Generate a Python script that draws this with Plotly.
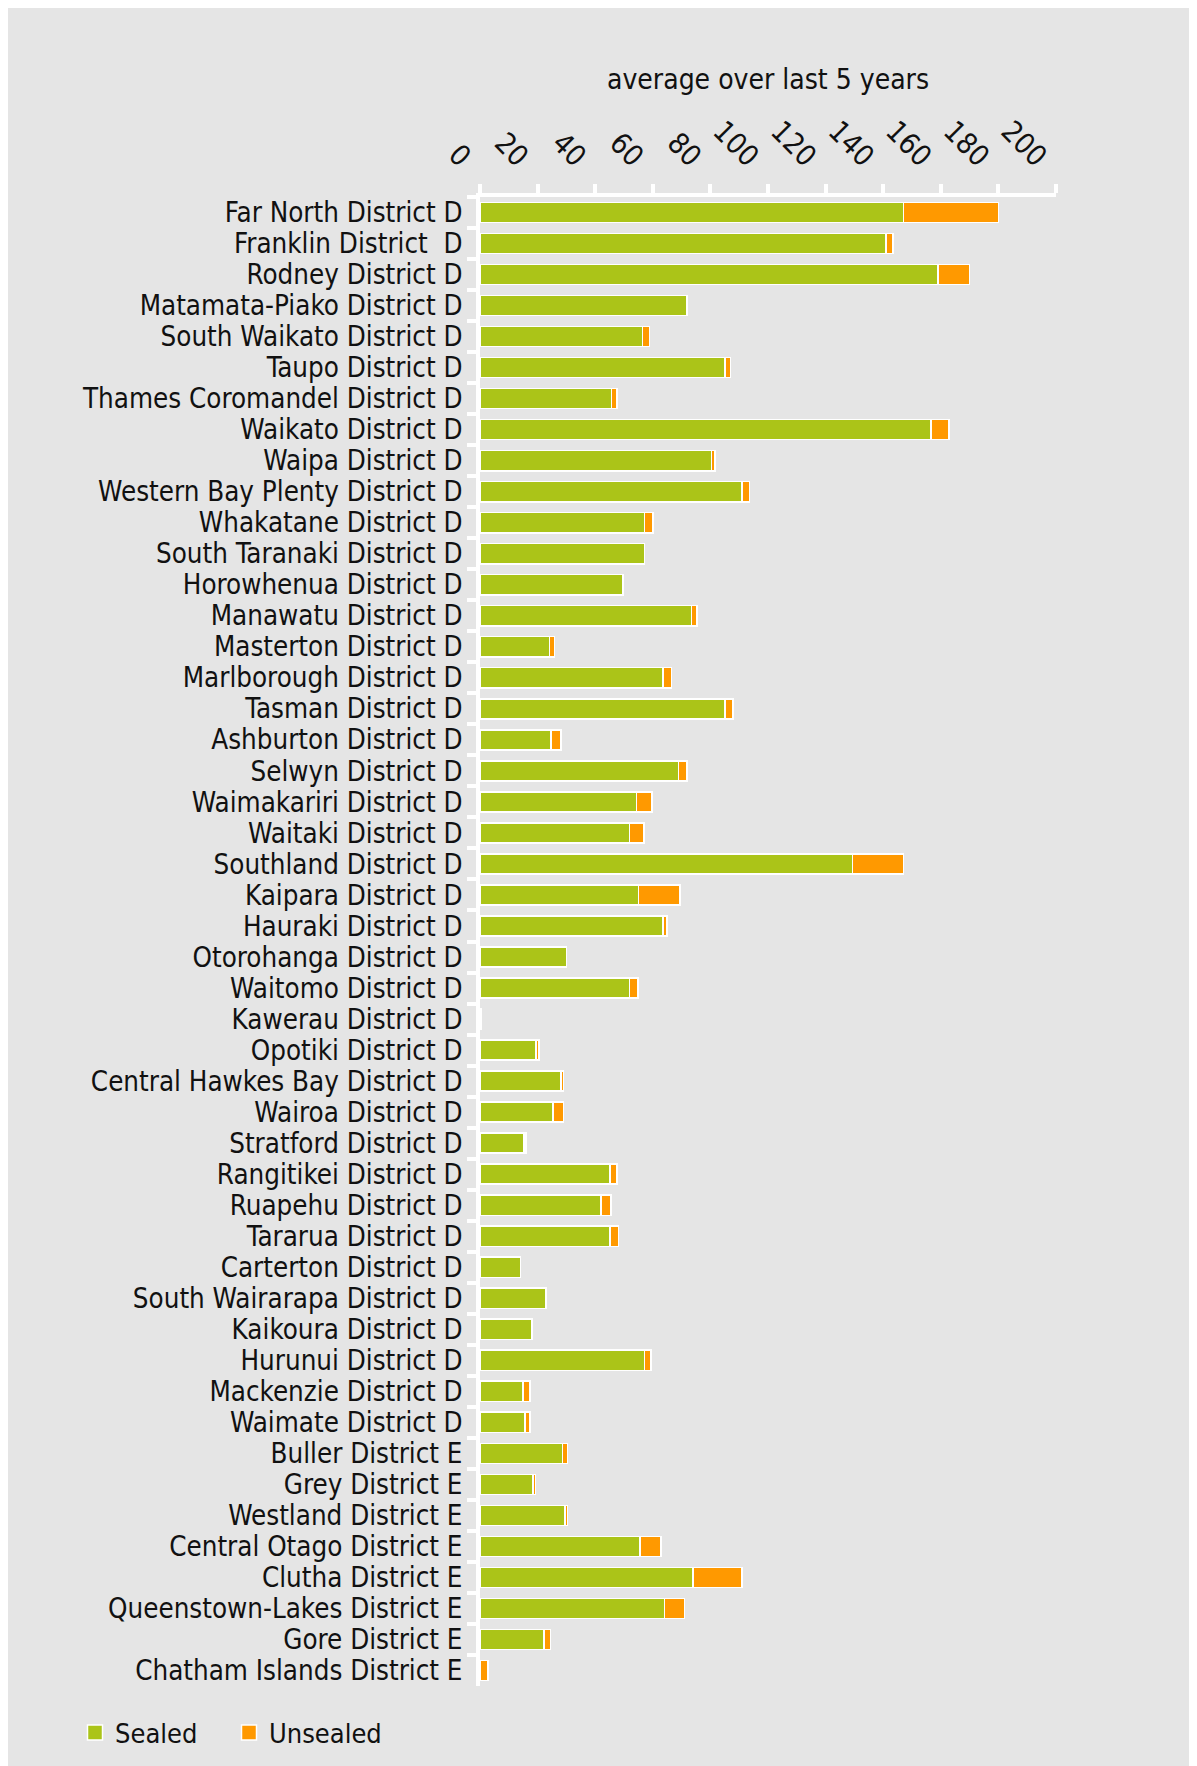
import plotly.graph_objects as go

districts = [
    "Far North District D", "Franklin District\u00a0 D", "Rodney District D",
    "Matamata-Piako District D", "South Waikato District D", "Taupo District D",
    "Thames Coromandel District D", "Waikato District D", "Waipa District D",
    "Western Bay Plenty District D", "Whakatane District D", "South Taranaki District D",
    "Horowhenua District D", "Manawatu District D", "Masterton District D",
    "Marlborough District D", "Tasman District D", "Ashburton District D",
    "Selwyn District D", "Waimakariri District D", "Waitaki District D",
    "Southland District D", "Kaipara District D", "Hauraki District D",
    "Otorohanga District D", "Waitomo District D", "Kawerau District D",
    "Opotiki District D", "Central Hawkes Bay District D", "Wairoa District D",
    "Stratford District D", "Rangitikei District D", "Ruapehu District D",
    "Tararua District D", "Carterton District D", "South Wairarapa District D",
    "Kaikoura District D", "Hurunui District D", "Mackenzie District D",
    "Waimate District D", "Buller District E", "Grey District E",
    "Westland District E", "Central Otago District E", "Clutha District E",
    "Queenstown-Lakes District E", "Gore District E", "Chatham Islands District E",
]

sealed = [147.1, 141.0, 159.0, 71.8, 56.4, 85.1, 45.7, 156.6, 80.3, 91.0,
          57.2, 57.2, 49.7, 73.4, 24.2, 63.6, 85.1, 24.7, 68.9, 54.3,
          51.9, 129.3, 55.1, 63.6, 30.1, 51.9, 0.5, 19.4, 28.2, 25.3,
          15.2, 45.2, 42.0, 45.2, 14.1, 22.9, 18.1, 57.2, 14.9, 15.7,
          28.7, 18.4, 29.5, 55.6, 73.9, 64.1, 22.3, 0.0]

unsealed = [33.0, 2.4, 11.0, 0.0, 2.4, 1.9, 1.9, 6.2, 1.3, 2.6,
            2.9, 0.0, 0.0, 1.9, 1.6, 2.9, 2.7, 3.5, 2.9, 5.5,
            5.0, 17.8, 14.3, 1.3, 0.0, 2.9, 0.0, 1.1, 0.8, 3.7,
            0.8, 2.4, 3.5, 2.9, 0.0, 0.0, 0.0, 2.1, 2.4, 1.6,
            1.6, 0.8, 0.8, 7.2, 17.0, 6.9, 2.1, 2.7]

x_ticks = [0, 20, 40, 60, 80, 100, 120, 140, 160, 180, 200]
axis_title = "average over last 5 years"

GREEN = "#abc418"
ORANGE = "#ff9900"
BG = "#e5e5e5"
FONT = "DejaVu Sans Condensed, Liberation Sans, Arial, sans-serif"

# page is offset by the 8px body margin
OFF = 8
W, H = 1197 - OFF, 1766 - OFF
PLOT_L, PLOT_R, PLOT_T, PLOT_B = 480, 1056, 197, 1686
L = PLOT_L - OFF
T = PLOT_T - OFF
R = W - (PLOT_R - OFF)
B = H - (PLOT_B - OFF)
pw, ph = W - L - R, H - T - B


def px_to_paper_x(px):
    return (px - OFF - L) / pw


def px_to_paper_y(py):
    return (H - B - (py - OFF)) / ph


fig = go.Figure()
fig.add_trace(go.Bar(
    y=districts, x=sealed, name="Sealed", orientation="h", showlegend=False,
    marker=dict(color=GREEN, line=dict(color="white", width=1.5)),
))
fig.add_trace(go.Bar(
    y=districts, x=unsealed, name="Unsealed", orientation="h", showlegend=False,
    marker=dict(color=ORANGE, line=dict(color="white", width=1.5)),
))
# legend entries (square swatches)
for nm, col in (("Sealed", GREEN), ("Unsealed", ORANGE)):
    fig.add_trace(go.Scatter(
        x=[None], y=[None], mode="markers", name=nm, showlegend=True,
        marker=dict(symbol="square", size=15, color=col,
                    line=dict(color="white", width=1.5)),
    ))

fig.update_layout(
    width=W, height=H,
    margin=dict(l=L, r=R, t=T, b=B, autoexpand=False),
    barmode="stack", bargap=0.35,
    paper_bgcolor=BG, plot_bgcolor=BG,
    font=dict(family=FONT, size=27.5, color="#111111"),
    showlegend=True,
    legend=dict(
        orientation="h", x=px_to_paper_x(75), xanchor="left",
        y=px_to_paper_y(1733), yanchor="middle",
        bgcolor="rgba(0,0,0,0)", font=dict(size=27),
        entrywidth=109, traceorder="normal",
    ),
    xaxis=dict(
        side="top", range=[0, 200], tickmode="array", tickvals=x_ticks,
        ticktext=[str(v) for v in x_ticks], tickangle=45,
        showgrid=False, zeroline=False,
        showline=True, linecolor="white", linewidth=4,
        ticks="outside", ticklen=9, tickwidth=4, tickcolor="white",
        tickfont=dict(size=29), ticklabelshift=-11,
    ),
    yaxis=dict(
        type="category", autorange="reversed",
        tickmode="linear", dtick=1,
        showgrid=False, zeroline=False,
        showline=True, linecolor="white", linewidth=4,
        ticks="outside", tickson="boundaries", ticklen=9, tickwidth=4,
        tickcolor="white", tickfont=dict(size=27.5), ticklabelstandoff=8,
    ),
    annotations=[dict(
        text=axis_title, xref="paper", yref="paper",
        x=0.5, y=px_to_paper_y(80), xanchor="center", yanchor="middle",
        showarrow=False, font=dict(size=28),
    )],
)

fig.write_html("out.html")
